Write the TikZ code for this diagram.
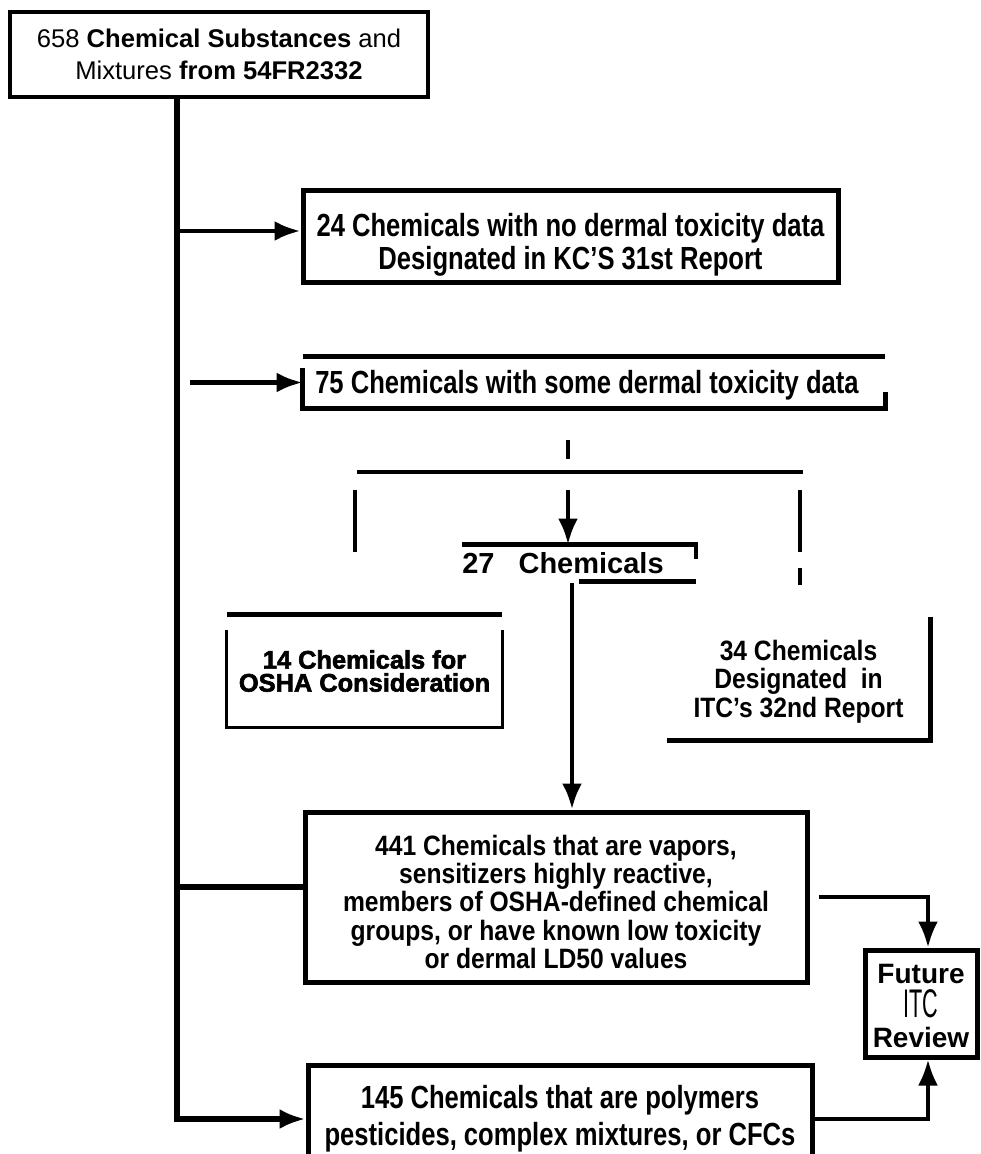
\documentclass[tikz,border=0pt]{standalone}
\usepackage{fontspec}
\setmainfont{Liberation Sans}
\newfontfamily\narrowfont{Liberation Sans}[FakeStretch=0.8]
\newfontfamily\semifont{Liberation Sans}[FakeStretch=0.88]
\newfontfamily\tallfont{Liberation Sans}[FakeStretch=0.54]
\newfontface\heavyfont{Liberation Sans Bold}[FakeBold=2.4]
\usetikzlibrary{arrows.meta}

\begin{document}
\begin{tikzpicture}[x=0.5pt,y=-0.5pt,
  box/.style={draw,line width=2.5pt,align=center,inner sep=0pt},
  frame/.style={align=center,inner sep=0pt},
  line/.style={line width=2.4pt},
  trunk/.style={line width=3pt},
  thin/.style={line width=1.7pt},
  tip/.style={-{Latex[length=13pt,width=10pt]}},
  arrow/.style={line width=2.4pt,tip},
  body/.style={font=\narrowfont\bfseries\fontsize{16}{16.5}\selectfont},
  mid/.style={font=\semifont\bfseries\fontsize{14}{14.2}\selectfont}]

\clip (0,0) rectangle (980,1154);

\node[box,line width=2.2pt,minimum width=209pt,minimum height=42.5pt,font=\fontsize{12.8}{16}\selectfont](src) at (219,54.5){658 \textbf{Chemical Substances} and\\Mixtures \textbf{from 54FR2332}};
\node[box,body,minimum width=267.5pt,minimum height=46pt](nodata) at (570.5,237){\rule{0pt}{19.5pt}24 Chemicals with no dermal toxicity data\\Designated in KC’S 31st Report};
\node[frame,body,minimum width=291pt,minimum height=25.5pt](somedata) at (594,382.5){\rule{0pt}{14pt}75 Chemicals with some dermal toxicity data\hspace*{7pt}};
\node[frame,minimum width=91pt,minimum height=18pt,font=\bfseries\fontsize{14.5}{15}\selectfont](twentyseven) at (579,563){27\hspace{12pt}Chemicals\hspace*{16pt}};
\node[frame,minimum width=137.5pt,minimum height=56pt,font=\heavyfont\fontsize{12.7}{11.5}\selectfont](osha) at (364.5,671){14 Chemicals for\\OSHA Consideration};
\node[frame,mid,minimum width=131.5pt,minimum height=61.5pt](itc32) at (798.5,678.5){\rule{0pt}{13pt}34 Chemicals\\Designated\ \ in\\ITC’s 32nd Report};
\node[box,mid,minimum width=251pt,minimum height=85pt](lowtox) at (556,897){\rule{0pt}{15pt}441 Chemicals that are vapors,\\sensitizers highly reactive,\\members of OSHA-defined chemical\\groups, or have known low toxicity\\or dermal LD50 values};
\node[box,minimum width=56pt,minimum height=53.5pt,font=\bfseries\fontsize{14}{12}\selectfont](future) at (921,1003.5){\rule{0pt}{12pt}Future\\[2pt]{\tallfont\mdseries\fontsize{20}{12}\selectfont ITC}\\[3pt]Review};
\node[box,body,minimum width=252pt,minimum height=53.5pt,font=\narrowfont\bfseries\fontsize{16}{18.5}\selectfont](polymers) at (560,1119){145 Chemicals that are polymers\\pesticides, complex mixtures, or CFCs};

\draw[line] (somedata.north west) -- (somedata.north east);
\draw[line] ([yshift=-5.5pt]somedata.north west) -- (somedata.south west) -- (somedata.south east) -- ([yshift=-17.5pt]somedata.north east);
\draw[line] (twentyseven.north west) -- (twentyseven.north east) -- ++(0,14);
\draw[line] (twentyseven.south) -- (twentyseven.south east);
\draw[line] (osha.north west) -- (osha.north east);
\draw[thin] ([yshift=-7.5pt]osha.north west) -- (osha.south west) -- (osha.south east) -- ([yshift=-7.5pt]osha.north east);
\draw[line,line width=2.8pt] (itc32.north east) -- (itc32.south east) -- (itc32.south west);

\coordinate (spine) at (177,97);
\coordinate (stub) at (190,382.5);
\coordinate (a24) at ([yshift=3pt]nodata.west);
\coordinate (j441) at ([yshift=5pt]lowtox.west);
\coordinate (split) at (568,490);
\coordinate (drop) at (572,583);

\draw[trunk,tip] (spine) |- (polymers.west);
\draw[arrow] (spine |- a24) -- (a24);
\draw[trunk] (spine |- j441) -- (j441);
\draw[arrow] (stub) -- (somedata.west);
\draw[thin] (568,440) -- (568,459);
\draw[line] (357,472) -- (803,472);
\draw[thin] (355,490) -- (355,552);
\draw[arrow] (split) -- (split |- twentyseven.north);
\draw[line] (800,490) -- (800,552);
\draw[thin] (800,568) -- (800,585);
\draw[arrow] (drop) -- (drop |- lowtox.north);
\draw[arrow,line width=2pt] ([xshift=4.5pt]lowtox.east) -| ([xshift=3.5pt]future.north);
\draw[arrow,line width=2pt] (polymers.east) -| ([xshift=3.5pt]future.south);

\end{tikzpicture}
\end{document}
